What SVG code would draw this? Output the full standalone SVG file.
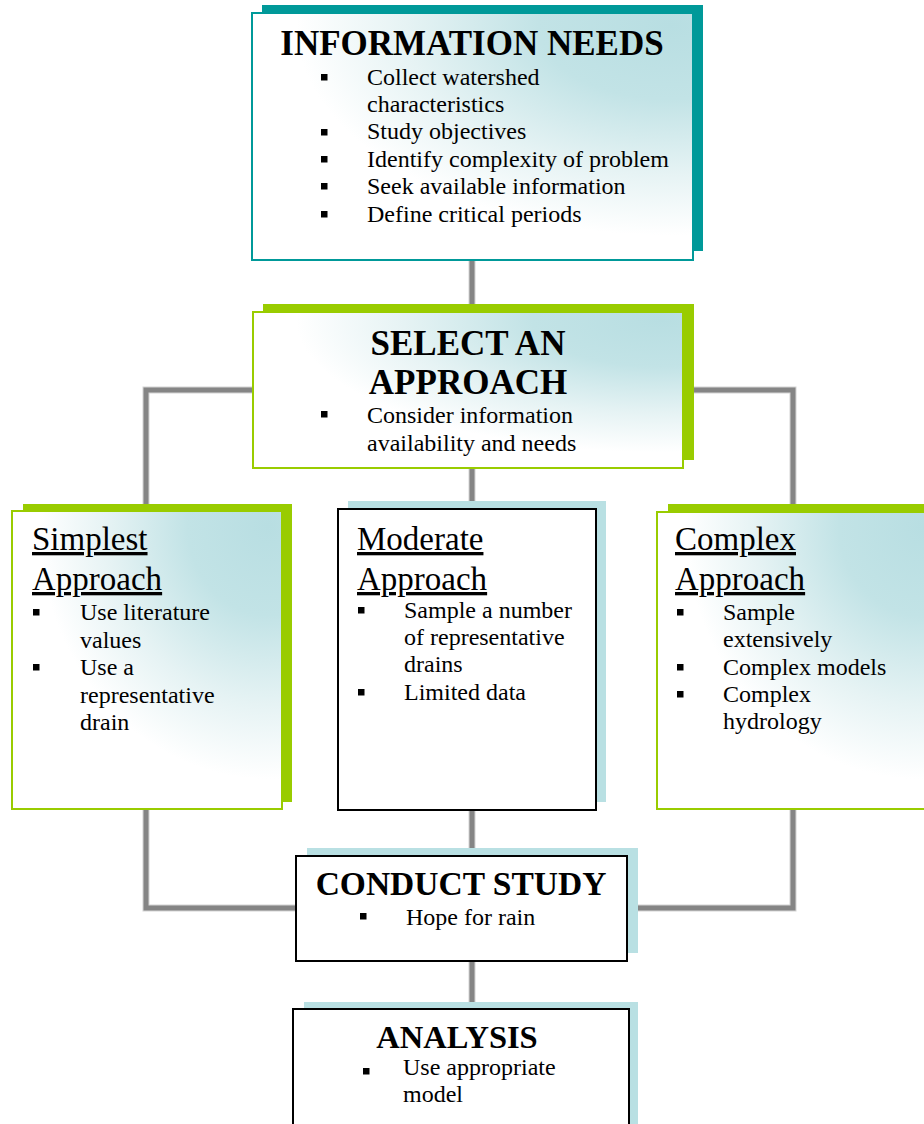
<svg xmlns="http://www.w3.org/2000/svg" width="924" height="1124" viewBox="0 0 924 1124">
<defs>
<radialGradient id="tealGrad" cx="0.95" cy="0.05" r="1.0" fx="0.95" fy="0.05">
<stop offset="0" stop-color="#b8dee2"/>
<stop offset="0.3" stop-color="#c2e3e6"/>
<stop offset="0.6" stop-color="#e6f3f4"/>
<stop offset="0.85" stop-color="#ffffff"/>
<stop offset="1" stop-color="#ffffff"/>
</radialGradient>
<style>
.conn-under{fill:none;stroke:#d4d4d4;stroke-width:7;stroke-linejoin:miter}
.conn{fill:none;stroke:#858585;stroke-width:5;stroke-linejoin:miter}
.title{font-family:"Liberation Serif","Times New Roman",serif;font-weight:bold;font-size:34px;fill:#000;text-anchor:middle}
.head{font-family:"Liberation Serif","Times New Roman",serif;font-size:33px;fill:#000;text-decoration:underline}
.body{font-family:"Liberation Serif","Times New Roman",serif;font-size:24px;fill:#000}
.bul{fill:#000}
.tealShadow{fill:#009999}
.greenShadow{fill:#99cc00}
.lightShadow{fill:#b9e0e3}
.tealBox{fill:url(#tealGrad);stroke:#009999;stroke-width:2}
.greenBox{fill:url(#tealGrad);stroke:#99cc00;stroke-width:2}
.plainBox{fill:#ffffff;stroke:#000;stroke-width:2}
</style>
</defs>
<rect width="924" height="1124" fill="#ffffff"/>

<g id="connectors">
<path class="conn-under" d="M472,258 V314 M472,467 V510 M254,390 H146 V513 M681,390 H793 V514 M146,807 V908 H298 M793,807 V908 H625 M472,808 V858 M472,959 V1011"/>
<path class="conn" d="M472,258 V314 M472,467 V510 M254,390 H146 V513 M681,390 H793 V514 M146,807 V908 H298 M793,807 V908 H625 M472,808 V858 M472,959 V1011"/>
</g>

<g id="info-needs">
<rect class="tealShadow" x="262" y="5" width="441" height="246"/>
<rect class="tealBox" x="252" y="13" width="441" height="247"/>
<text class="title" x="472" y="55" style="font-size:35px">INFORMATION NEEDS</text>
<rect class="bul" x="321" y="74" width="6.5" height="6.5"/>
<text class="body" x="367" y="85">Collect watershed</text>
<text class="body" x="367" y="112">characteristics</text>
<rect class="bul" x="321" y="129" width="6.5" height="6.5"/>
<text class="body" x="367" y="139">Study objectives</text>
<rect class="bul" x="321" y="156" width="6.5" height="6.5"/>
<text class="body" x="367" y="167">Identify complexity of problem</text>
<rect class="bul" x="321" y="183" width="6.5" height="6.5"/>
<text class="body" x="367" y="194">Seek available information</text>
<rect class="bul" x="321" y="211" width="6.5" height="6.5"/>
<text class="body" x="367" y="222">Define critical periods</text>
</g>

<g id="select-approach">
<rect class="greenShadow" x="263" y="304" width="431" height="156"/>
<rect class="greenBox" x="253" y="312" width="430" height="156"/>
<text class="title" x="468" y="355" style="font-size:35px">SELECT AN</text>
<text class="title" x="468" y="394" style="font-size:35px">APPROACH</text>
<rect class="bul" x="321" y="411" width="6.5" height="6.5"/>
<text class="body" x="367" y="423">Consider information</text>
<text class="body" x="367" y="451">availability and needs</text>
</g>

<g id="simplest">
<rect class="greenShadow" x="23" y="504" width="269" height="298"/>
<rect class="greenBox" x="12" y="511" width="270" height="298"/>
<text class="head" x="32" y="550">Simplest</text>
<text class="head" x="32" y="590">Approach</text>
<rect class="bul" x="33" y="609" width="6.5" height="6.5"/>
<text class="body" x="80" y="620">Use literature</text>
<text class="body" x="80" y="648">values</text>
<rect class="bul" x="33" y="664" width="6.5" height="6.5"/>
<text class="body" x="80" y="675">Use a</text>
<text class="body" x="80" y="703">representative</text>
<text class="body" x="80" y="730">drain</text>
</g>

<g id="moderate">
<rect class="lightShadow" x="348" y="501" width="258" height="301"/>
<rect class="plainBox" x="338" y="509" width="258" height="301"/>
<text class="head" x="357" y="550">Moderate</text>
<text class="head" x="357" y="590">Approach</text>
<rect class="bul" x="358" y="607" width="6.5" height="6.5"/>
<text class="body" x="404" y="618">Sample a number</text>
<text class="body" x="404" y="645">of representative</text>
<text class="body" x="404" y="672">drains</text>
<rect class="bul" x="358" y="689" width="6.5" height="6.5"/>
<text class="body" x="404" y="700">Limited data</text>
</g>

<g id="complex">
<rect class="greenShadow" x="668" y="504" width="270" height="298"/>
<rect class="greenBox" x="657" y="512" width="280" height="297"/>
<text class="head" x="675" y="550">Complex</text>
<text class="head" x="675" y="590">Approach</text>
<rect class="bul" x="677" y="609" width="6.5" height="6.5"/>
<text class="body" x="723" y="620">Sample</text>
<text class="body" x="723" y="647">extensively</text>
<rect class="bul" x="677" y="664" width="6.5" height="6.5"/>
<text class="body" x="723" y="675">Complex models</text>
<rect class="bul" x="677" y="691" width="6.5" height="6.5"/>
<text class="body" x="723" y="702">Complex</text>
<text class="body" x="723" y="729">hydrology</text>
</g>

<g id="conduct-study">
<rect class="lightShadow" x="307" y="848" width="331" height="105"/>
<rect class="plainBox" x="296" y="856" width="331" height="105"/>
<text class="title" x="461" y="895" style="font-size:33.5px">CONDUCT STUDY</text>
<rect class="bul" x="360" y="913" width="6.5" height="6.5"/>
<text class="body" x="406" y="925">Hope for rain</text>
</g>

<g id="analysis">
<rect class="lightShadow" x="304" y="1002" width="334" height="130"/>
<rect class="plainBox" x="293" y="1009" width="336" height="130"/>
<text class="title" x="457" y="1048" style="font-size:32.5px">ANALYSIS</text>
<rect class="bul" x="363" y="1068" width="6.5" height="6.5"/>
<text class="body" x="403" y="1075">Use appropriate</text>
<text class="body" x="403" y="1102">model</text>
</g>
</svg>
